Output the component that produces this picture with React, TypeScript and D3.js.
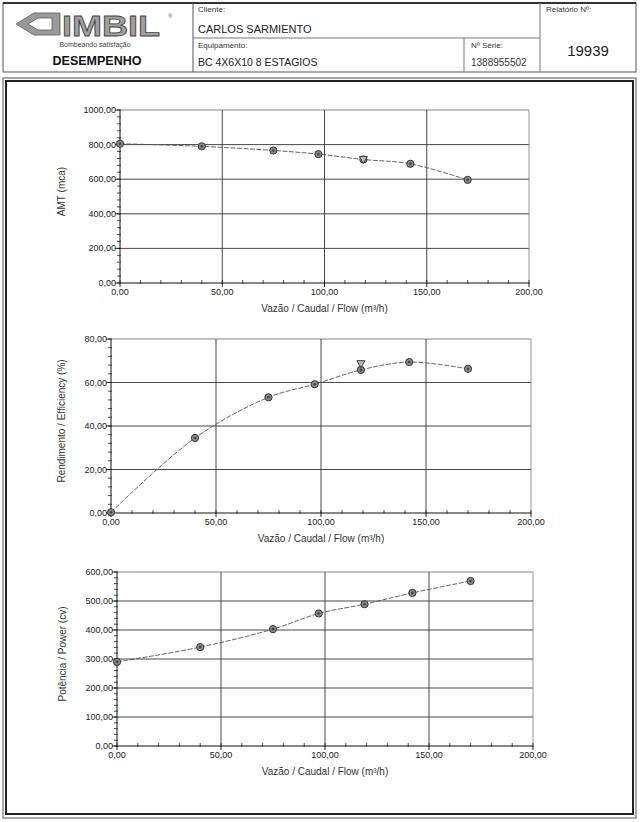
import React from "react";
import * as d3 from "d3";

// Pump performance test sheet (three curves against flow)
const flow = [0, 40, 75, 97, 119, 142, 170];
const head = [805, 790, 766, 745, 714, 689, 596];
const efficiency = [0.3, 34.5, 53.2, 59.2, 65.8, 69.4, 66.3];
const power = [290, 341, 403, 457, 489, 528, 569];

// guaranteed point (triangle)
const nominalFlow = [119];
const nominalHead = [708];
const nominalEfficiency = [68.2];

const xTicks = [0, 50, 100, 150, 200];
const headTicks = [0, 200, 400, 600, 800, 1000];
const effTicks = [0, 20, 40, 60, 80];
const powerTicks = [0, 100, 200, 300, 400, 500, 600];

const FONT = "'Liberation Sans', Arial, sans-serif";
const ptBr = d3.formatLocale({ decimal: ",", thousands: "", grouping: [3], currency: ["", ""] });
const fmt = ptBr.format(".2f");

type ChartProps = {
  left: number;
  right: number;
  top: number;
  bottom: number;
  yTicks: number[];
  values: number[];
  nomFlow?: number[];
  nomValues?: number[];
  yTitle: string;
  yTitleX: number;
  xTitle: string;
};

function Chart(p: ChartProps) {
  const x = d3.scaleLinear().domain([0, 200]).range([p.left, p.right]);
  const yMax = p.yTicks[p.yTicks.length - 1];
  const y = d3.scaleLinear().domain([0, yMax]).range([p.bottom, p.top]);
  const step = p.yTicks[1] - p.yTicks[0];
  const yMinor = d3.range(0, yMax + 0.001, step / 5);
  const xMinor = d3.range(0, 200.001, 10);

  const pts: [number, number][] = flow.map((f, i) => [f, p.values[i]]);
  const line = d3
    .line<[number, number]>()
    .x((d) => x(d[0]))
    .y((d) => y(d[1]))
    .curve(d3.curveCatmullRom.alpha(0.5));

  const midY = (p.top + p.bottom) / 2 - 5;

  return (
    <g fontFamily={FONT}>
      {/* grid */}
      {p.yTicks.slice(1).map((t) => (
        <line key={"gy" + t} x1={p.left} x2={p.right} y1={y(t)} y2={y(t)}
          stroke={t === yMax ? "#777" : "#333"} strokeWidth={0.9} />
      ))}
      {xTicks.slice(1).map((t) => (
        <line key={"gx" + t} x1={x(t)} x2={x(t)} y1={p.top} y2={p.bottom}
          stroke={t === 200 ? "#888" : "#333"} strokeWidth={0.9} />
      ))}
      {/* axes */}
      <line x1={p.left} x2={p.left} y1={p.top} y2={p.bottom} stroke="#111" strokeWidth={1} />
      <line x1={p.left} x2={p.right} y1={p.bottom} y2={p.bottom} stroke="#111" strokeWidth={1} />
      {yMinor.map((t) => (
        <line key={"my" + t} x1={p.left - 3} x2={p.left + 1} y1={y(t)} y2={y(t)} stroke="#222" strokeWidth={0.8} />
      ))}
      {p.yTicks.map((t) => (
        <line key={"ty" + t} x1={p.left - 5} x2={p.left} y1={y(t)} y2={y(t)} stroke="#111" strokeWidth={0.9} />
      ))}
      {xMinor.map((t) => (
        <line key={"mx" + t} x1={x(t)} x2={x(t)} y1={p.bottom - 3} y2={p.bottom + 1} stroke="#222" strokeWidth={0.8} />
      ))}
      {xTicks.map((t) => (
        <line key={"tx" + t} x1={x(t)} x2={x(t)} y1={p.bottom} y2={p.bottom + 4} stroke="#111" strokeWidth={0.9} />
      ))}
      {/* tick labels */}
      {p.yTicks.map((t) => (
        <text key={"ly" + t} x={p.left - 4} y={y(t) + 3} fontSize={9} textAnchor="end" fill="#222">
          {fmt(t)}
        </text>
      ))}
      {xTicks.map((t) => (
        <text key={"lx" + t} x={x(t)} y={p.bottom + 12} fontSize={9} textAnchor="middle" fill="#222">
          {fmt(t)}
        </text>
      ))}
      {/* titles */}
      <text x={(p.left + p.right) / 2} y={p.bottom + 29} fontSize={10} textAnchor="middle" fill="#333">
        {p.xTitle}
      </text>
      <text transform={`translate(${p.yTitleX},${midY}) rotate(-90)`} fontSize={10} textAnchor="middle"
        dominantBaseline="middle" fill="#333">
        {p.yTitle}
      </text>
      {/* curve */}
      <path d={line(pts) ?? ""} fill="none" stroke="#555" strokeWidth={0.9} strokeDasharray="5 1.5" />
      {pts.map((d, i) => (
        <g key={"pt" + i}>
          <circle cx={x(d[0])} cy={y(d[1])} r={3.6} fill="#8a8a8a" stroke="#333" strokeWidth={1} />
          <circle cx={x(d[0])} cy={y(d[1])} r={1.3} fill="#444" />
        </g>
      ))}
      {(p.nomFlow ?? []).map((f, i) => {
        const cx = x(f);
        const cy = y(p.nomValues![i]);
        return (
          <path key={"nom" + i}
            d={`M${cx - 4},${cy - 4} L${cx + 4},${cy - 4} L${cx},${cy + 3} Z`}
            fill="#bbb" stroke="#333" strokeWidth={0.9} />
        );
      })}
    </g>
  );
}

function Header() {
  return (
    <g fontFamily={FONT}>
      <rect x={3} y={3} width={633} height={69} fill="none" stroke="#555" strokeWidth={1} />
      <line x1={3} x2={636} y1={3} y2={3} stroke="#333" strokeWidth={2} />
      <line x1={193} x2={193} y1={3} y2={72} stroke="#555" />
      <line x1={540} x2={540} y1={3} y2={72} stroke="#777" />
      <line x1={193} x2={540} y1={38} y2={38} stroke="#777" />
      <line x1={464} x2={464} y1={38} y2={72} stroke="#777" />

      {/* logo */}
      <path d="M16,24 L34,13 L60,13 L60,35 L34,35 Z M28,24 L38,18 L52,18 L52,30 L38,30 Z"
        fill="#9a9a9a" stroke="#555" strokeWidth={0.8} fillRule="evenodd" />
      <text x={62} y={36} fontSize={29} fontWeight="bold" fill="#a0a0a0" stroke="#444" strokeWidth={0.8}
        textLength={98} lengthAdjust="spacingAndGlyphs">
        IMBIL
      </text>
      <text x={168} y={18} fontSize={6} fill="#555">®</text>
      <text x={95} y={47} fontSize={7} textAnchor="middle" fill="#444">Bombeando satisfação</text>
      <text x={97} y={65} fontSize={12.5} fontWeight="bold" textAnchor="middle" fill="#111">DESEMPENHO</text>

      <text x={198} y={12} fontSize={8} fill="#333">Cliente:</text>
      <text x={198} y={33} fontSize={11} fill="#222">CARLOS SARMIENTO</text>
      <text x={198} y={48} fontSize={8} fill="#333">Equipamento:</text>
      <text x={198} y={66} fontSize={10.5} fill="#222">BC 4X6X10 8 ESTAGIOS</text>

      <text x={471} y={48} fontSize={8} fill="#333">Nº Série:</text>
      <text x={471} y={66} fontSize={10} fill="#333">1388955502</text>

      <text x={546} y={12} fontSize={8} fill="#333">Relatório Nº:</text>
      <text x={588} y={56} fontSize={15} textAnchor="middle" fill="#222">19939</text>
    </g>
  );
}

export default function App() {
  const xTitle = "Vazão / Caudal / Flow (m³/h)";
  return (
    <svg width={640} height={822} style={{ position: "absolute", left: 0, top: 0, background: "#fff" }}>
      <Header />
      {/* page frame */}
      <rect x={3} y={78} width={633} height={740} fill="none" stroke="#555" strokeWidth={1} />
      <rect x={6} y={81} width={627} height={733} fill="none" stroke="#222" strokeWidth={2} />

      <Chart left={120} right={529} top={110} bottom={283} yTicks={headTicks} values={head}
        nomFlow={nominalFlow} nomValues={nominalHead}
        yTitle="AMT (mca)" yTitleX={62} xTitle={xTitle} />
      <Chart left={111} right={531} top={339} bottom={513} yTicks={effTicks} values={efficiency}
        nomFlow={nominalFlow} nomValues={nominalEfficiency}
        yTitle="Rendimento / Efficiency (%)" yTitleX={62} xTitle={xTitle} />
      <Chart left={117} right={533} top={572} bottom={746} yTicks={powerTicks} values={power}
        yTitle="Potência / Power (cv)" yTitleX={63} xTitle={xTitle} />
    </svg>
  );
}
